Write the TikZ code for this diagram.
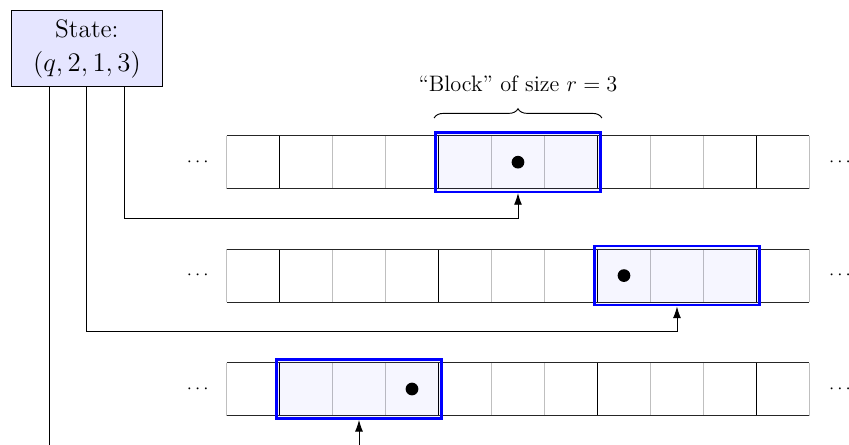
\documentclass[tikz,border=0pt]{standalone}
\usetikzlibrary{calc,decorations.pathreplacing,arrows.meta}
\begin{document}
\begin{tikzpicture}[x=1cm,y=1cm,
  statebox/.style={draw=black, fill=blue!10, minimum width=2.86cm, minimum height=1.43cm,
    inner sep=2pt, align=center, font=\fontsize{13.6}{18}\selectfont},
  blockbox/.style={draw=blue, line width=1.3pt, fill=blue, fill opacity=0.035, text opacity=1,
    minimum width=3.12cm, minimum height=1.12cm, inner sep=0pt},
  headdot/.style={circle, fill=black, minimum size=0.24cm, inner sep=0pt},
  cellsep/.style={draw=black!25, line width=0.4pt},
  blocksep/.style={draw=black, line width=0.5pt},
  tapeedge/.style={draw=black!85, line width=0.6pt},
  link/.style={draw=black, line width=0.5pt, -{Latex[length=2.2mm,width=1.5mm]}},
  ellip/.style={inner sep=0pt},
  lbl/.style={font=\fontsize{12}{14}\selectfont},
]
\useasboundingbox (0,0) rectangle (16.02,-8.396);

% three tapes of eleven cells, grouped in blocks of three
\foreach \yt in {-2.56,-4.70,-6.84} {
  \foreach \i in {0,2,3,5,6,8,9,11}
    \draw[cellsep] (4.274+\i,\yt) -- ++(0,-1);
  \foreach \i in {1,4,7,10}
    \draw[blocksep] (4.274+\i,\yt) -- ++(0,-1);
  \draw[tapeedge] (4.274,\yt) -- ++(11,0) (4.274,\yt-1) -- ++(11,0);
}

% ellipses on both sides of each tape
\node[ellip] (l1) at (3.73,-3.06) {$\cdots$};
\node[ellip] (r1) at (15.85,-3.06) {$\cdots$};
\node[ellip] (l2) at (3.73,-5.20) {$\cdots$};
\node[ellip] (r2) at (15.85,-5.20) {$\cdots$};
\node[ellip] (l3) at (3.73,-7.34) {$\cdots$};
\node[ellip] (r3) at (15.85,-7.34) {$\cdots$};

% highlighted blocks
\node[blockbox] (blk1) at (9.774,-3.06) {};
\node[blockbox] (blk2) at (12.774,-5.20) {};
\node[blockbox] (blk3) at (6.774,-7.34) {};

% head positions
\node[headdot] (hd1) at (9.774,-3.06) {};
\node[headdot] (hd2) at (11.774,-5.20) {};
\node[headdot] (hd3) at (7.774,-7.34) {};

% brace over the first block
\draw[decorate, decoration={brace, amplitude=5pt}, line width=0.5pt]
  ([yshift=0.25cm]blk1.north west) -- ([yshift=0.25cm]blk1.north east);
\node[lbl] (blklbl) at ([yshift=0.9cm]blk1.north) {``Block'' of size $r=3$};

% control state
\node[statebox] (state) at (1.64,-0.92) {State:\\$(q,2,1,3)$};

\coordinate (s1) at ($(state.south)+(0.71,0)$);
\coordinate (s2) at (state.south);
\coordinate (s3) at ($(state.south)+(-0.71,0)$);
\coordinate (h1) at ([yshift=-0.48cm]blk1.south);
\coordinate (h2) at ([yshift=-0.48cm]blk2.south);
\coordinate (h3) at ([yshift=-0.48cm]blk3.south);

\draw[link] (s1) |- (h1) -- (blk1.south);
\draw[link] (s2) |- (h2) -- (blk2.south);
\draw[link] (s3) |- (h3) -- (blk3.south);
\end{tikzpicture}
\end{document}
